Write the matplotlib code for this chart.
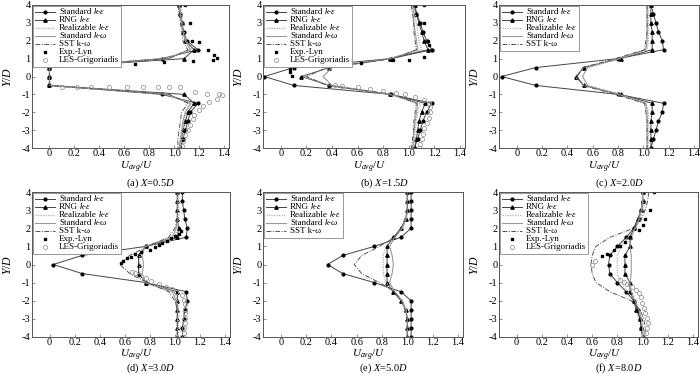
import matplotlib
matplotlib.use('Agg')
import matplotlib.pyplot as plt
from matplotlib.lines import Line2D
from matplotlib.offsetbox import TextArea, DrawingArea, HPacker, VPacker, AnchoredOffsetbox

plt.rcParams.update({
    'font.family': ['Liberation Serif', 'DejaVu Serif'],
    'mathtext.fontset': 'custom',
    'mathtext.rm': 'Liberation Serif',
    'mathtext.it': 'Liberation Serif:italic',
    'mathtext.bf': 'Liberation Serif:bold',
    'axes.unicode_minus': False,
})

# ---------------- data ----------------
y_sim = [4, 3.5, 3, 2.5, 2, 1.5, 1, 0.5, 0, -0.5, -1, -1.5, -2, -2.5, -3, -3.5, -4]

# (a) X = 0.5D
ske_a = [1.04, 1.05, 1.06, 1.08, 1.10, 1.19, 0.90, 0.0, 0.0, 0.0, 0.90, 1.19, 1.13, 1.11, 1.09, 1.07, 1.05]
rng_a = [1.04, 1.05, 1.06, 1.07, 1.09, 1.16, 1.08, 0.0, 0.0, 0.0, 1.08, 1.16, 1.11, 1.09, 1.07, 1.06, 1.05]
real_a = [1.05, 1.06, 1.07, 1.08, 1.10, 1.14, 0.93, 0.0, 0.0, 0.0, 0.93, 1.14, 1.10, 1.08, 1.07, 1.06, 1.05]
skw_a = [1.04, 1.05, 1.06, 1.07, 1.09, 1.13, 0.95, 0.0, 0.0, 0.0, 0.95, 1.13, 1.09, 1.07, 1.06, 1.05, 1.04]
sst_a = [1.03, 1.04, 1.05, 1.06, 1.07, 1.11, 0.96, 0.0, 0.0, 0.0, 0.96, 1.11, 1.06, 1.05, 1.04, 1.03, 1.03]
exp_a_x = [1.09, 1.13, 1.14, 1.20, 1.27, 1.32, 1.34, 1.31, 1.15, 0.92, 0.69]
exp_a_y = [4.0, 3.0, 2.0, 1.95, 1.5, 1.2, 1.05, 0.92, 0.85, 0.8, 0.72]
les_a_x = [0.10, 0.22, 0.33, 0.48, 0.62, 0.75, 0.87, 0.96, 1.05, 1.17, 1.26, 1.36, 1.38, 1.34, 1.28, 1.23, 1.20, 1.16, 1.15, 1.13, 1.11, 1.09, 1.07, 1.06]
les_a_y = [-0.6, -0.6, -0.6, -0.6, -0.6, -0.6, -0.6, -0.6, -0.6, -0.85, -0.96, -0.96, -1.05, -1.24, -1.44, -1.67, -1.9, -2.13, -2.4, -2.7, -3.0, -3.3, -3.6, -3.9]

# (b) X = 1.5D
ske_b = [1.04, 1.06, 1.09, 1.11, 1.14, 1.18, 0.86, 0.10, -0.13, 0.10, 0.86, 1.18, 1.14, 1.11, 1.09, 1.07, 1.04]
rng_b = [1.05, 1.06, 1.08, 1.10, 1.12, 1.15, 0.85, 0.38, 0.16, 0.38, 0.85, 1.13, 1.10, 1.08, 1.07, 1.06, 1.05]
real_b = [1.04, 1.05, 1.06, 1.07, 1.08, 1.10, 0.84, 0.38, 0.18, 0.38, 0.84, 1.09, 1.07, 1.06, 1.05, 1.05, 1.04]
skw_b = [1.03, 1.04, 1.04, 1.05, 1.06, 1.07, 0.86, 0.40, 0.33, 0.40, 0.86, 1.07, 1.06, 1.05, 1.04, 1.04, 1.03]
sst_b = [1.02, 1.03, 1.04, 1.04, 1.05, 1.06, 0.88, 0.36, 0.20, 0.36, 0.88, 1.06, 1.05, 1.04, 1.04, 1.03, 1.02]
exp_b_x = [1.12, 1.12, 1.15, 1.16, 1.18, 1.12, 1.00, 0.88, 0.63, 0.47, 0.07, 0.07, 0.09]
exp_b_y = [4.0, 3.0, 2.0, 1.75, 1.5, 1.1, 0.95, 0.9, 0.75, 0.65, 0.4, 0.25, 0.05]
les_b_x = [0.42, 0.48, 0.60, 0.70, 0.80, 0.90, 0.97, 1.05, 1.12, 1.16, 1.17, 1.17, 1.16, 1.14, 1.12, 1.11, 1.10, 1.09, 1.08]
les_b_y = [-0.5, -0.55, -0.6, -0.7, -0.8, -0.9, -1.0, -1.15, -1.3, -1.5, -1.7, -2.0, -2.3, -2.6, -2.9, -3.2, -3.5, -3.8, -4.0]

# (c) X = 2.0D
ske_c = [1.06, 1.08, 1.10, 1.12, 1.15, 1.16, 0.80, 0.15, -0.12, 0.15, 0.80, 1.16, 1.15, 1.12, 1.10, 1.08, 1.06]
rng_c = [1.06, 1.06, 1.06, 1.07, 1.07, 1.07, 0.82, 0.53, 0.47, 0.53, 0.82, 1.07, 1.07, 1.06, 1.06, 1.06, 1.06]
real_c = [1.04, 1.04, 1.04, 1.04, 1.04, 1.03, 0.82, 0.53, 0.46, 0.53, 0.82, 1.02, 1.04, 1.04, 1.04, 1.04, 1.04]
skw_c = [1.03, 1.03, 1.03, 1.03, 1.03, 1.02, 0.80, 0.56, 0.52, 0.56, 0.80, 1.02, 1.03, 1.03, 1.03, 1.03, 1.03]
sst_c = [1.03, 1.03, 1.03, 1.03, 1.02, 1.01, 0.78, 0.52, 0.48, 0.52, 0.78, 1.01, 1.02, 1.03, 1.03, 1.03, 1.03]

# (d) X = 3.0D
ske_d = [1.06, 1.06, 1.07, 1.08, 1.10, 1.09, 0.77, 0.26, 0.03, 0.26, 0.77, 1.09, 1.10, 1.08, 1.07, 1.06, 1.06]
rng_d = [1.02, 1.02, 1.02, 1.02, 1.03, 1.02, 0.77, 0.71, 0.71, 0.71, 0.77, 1.02, 1.02, 1.02, 1.02, 1.02, 1.02]
real_d = [1.03, 1.03, 1.03, 1.03, 1.02, 1.00, 0.77, 0.72, 0.72, 0.72, 0.77, 1.00, 1.02, 1.03, 1.03, 1.03, 1.03]
skw_d = [1.02, 1.02, 1.02, 1.02, 1.01, 0.98, 0.76, 0.74, 0.75, 0.74, 0.76, 0.98, 1.01, 1.02, 1.02, 1.02, 1.02]
sst_d = [1.02, 1.02, 1.02, 1.02, 1.00, 0.95, 0.78, 0.64, 0.56, 0.64, 0.78, 0.95, 1.00, 1.02, 1.02, 1.02, 1.02]
exp_d_x = [1.05, 1.03, 1.00, 0.97, 0.94, 0.90, 0.87, 0.84, 0.80, 0.73, 0.68, 0.65, 0.62, 0.59, 0.57]
exp_d_y = [1.85, 1.7, 1.57, 1.45, 1.32, 1.19, 1.05, 0.94, 0.81, 0.7, 0.57, 0.43, 0.34, 0.2, 0.1]
les_d_x = [0.66, 0.68, 0.71, 0.77, 0.81, 0.87, 0.93, 0.98, 1.01, 1.06, 1.07, 1.08, 1.08, 1.08, 1.08, 1.08, 1.07, 1.07, 1.07]
les_d_y = [-0.4, -0.47, -0.6, -0.75, -0.9, -1.07, -1.22, -1.37, -1.54, -1.7, -1.95, -2.2, -2.45, -2.7, -2.95, -3.2, -3.5, -3.8, -4.0]

# (e) X = 5.0D
ske_e = [1.03, 1.03, 1.03, 1.03, 1.03, 0.95, 0.74, 0.49, 0.37, 0.49, 0.74, 0.95, 1.03, 1.03, 1.03, 1.03, 1.03]
rng_e = [1.00, 1.00, 1.00, 0.99, 0.95, 0.89, 0.84, 0.84, 0.84, 0.84, 0.84, 0.89, 0.95, 0.99, 1.00, 1.00, 1.00]
real_e = [1.00, 1.00, 1.00, 0.99, 0.96, 0.90, 0.83, 0.81, 0.81, 0.81, 0.83, 0.90, 0.96, 0.99, 1.00, 1.00, 1.00]
skw_e = [1.00, 1.00, 1.00, 0.99, 0.96, 0.90, 0.86, 0.88, 0.89, 0.88, 0.86, 0.90, 0.96, 0.99, 1.00, 1.00, 1.00]
sst_e = [1.00, 1.00, 1.00, 0.98, 0.95, 0.90, 0.78, 0.64, 0.58, 0.64, 0.78, 0.90, 0.95, 0.98, 1.00, 1.00, 1.00]

# (f) X = 8.0D
ske_f = [1.00, 1.00, 0.99, 0.97, 0.93, 0.87, 0.80, 0.74, 0.73, 0.74, 0.80, 0.87, 0.93, 0.96, 0.98, 0.99, 1.00]
rng_f = [1.00, 1.00, 0.99, 0.96, 0.93, 0.90, 0.90, 0.86, 0.86, 0.86, 0.90, 0.90, 0.93, 0.95, 0.98, 0.99, 1.00]
real_f = [1.01, 1.01, 1.00, 0.98, 0.94, 0.88, 0.83, 0.80, 0.80, 0.80, 0.83, 0.88, 0.94, 0.97, 0.99, 1.00, 1.01]
skw_f = [1.00, 1.00, 0.99, 0.97, 0.94, 0.91, 0.90, 0.91, 0.91, 0.91, 0.90, 0.91, 0.94, 0.97, 0.99, 1.00, 1.00]
sst_f = [1.05, 1.04, 1.02, 0.99, 0.93, 0.74, 0.63, 0.60, 0.59, 0.60, 0.63, 0.74, 0.91, 0.98, 1.01, 1.02, 1.02]
exp_f_x = [1.09, 1.06, 1.02, 1.00, 0.97, 0.90, 0.86, 0.82, 0.77, 0.72, 0.68]
exp_f_y = [4.0, 3.0, 2.5, 2.2, 1.9, 1.5, 1.25, 1.0, 0.8, 0.6, 0.45]
les_f_x = [0.60, 0.62, 0.82, 0.85, 0.88, 0.915, 0.95, 0.97, 0.985, 0.995, 1.01, 1.02, 1.035, 1.04, 1.035, 1.03]
les_f_y = [0.0, 0.2, -0.83, -0.95, -1.1, -1.25, -1.4, -1.57, -1.8, -2.1, -2.4, -2.65, -2.95, -3.2, -3.5, -3.8]

captions = [r'(a) $X$=0.5$D$', r'(b) $X$=1.5$D$', r'(c) $X$=2.0$D$',
            r'(d) $X$=3.0$D$', r'(e) $X$=5.0$D$', r'(f) $X$=8.0$D$']
xticks = [0, 0.2, 0.4, 0.6, 0.8, 1.0, 1.2, 1.4]
xticklabels = ['0', '0.2', '0.4', '0.6', '0.8', '1.0', '1.2', '1.4']
yticks = [-4, -3, -2, -1, 0, 1, 2, 3, 4]
yticklabels = ['-4', '-3', '-2', '-1', '0', '1', '2', '3', '4']

# legend labels: pieces (text, font style)
legend_parts = [
    [('Standard', 'normal'), ('k-\u03b5', 'italic')],
    [('RNG', 'normal'), ('k-\u03b5', 'italic')],
    [('Realizable', 'normal'), ('k-\u03b5', 'italic')],
    [('Standard', 'normal'), ('k-\u03c9', 'italic')],
    [('SST k-\u03c9', 'normal')],
    [('Exp.-Lyn', 'normal')],
    [('LES-Grigoriadis', 'normal')],
]

panels = [
    (ske_a, rng_a, real_a, skw_a, sst_a, (exp_a_x, exp_a_y), (les_a_x, les_a_y)),
    (ske_b, rng_b, real_b, skw_b, sst_b, (exp_b_x, exp_b_y), (les_b_x, les_b_y)),
    (ske_c, rng_c, real_c, skw_c, sst_c, None, None),
    (ske_d, rng_d, real_d, skw_d, sst_d, (exp_d_x, exp_d_y), (les_d_x, les_d_y)),
    (ske_e, rng_e, real_e, skw_e, sst_e, None, None),
    (ske_f, rng_f, real_f, skw_f, sst_f, (exp_f_x, exp_f_y), (les_f_x, les_f_y)),
]

# series styles
styles = [
    dict(color='#444444', lw=0.7, marker='o', ms=2.0, mfc='k', mec='k'),
    dict(color='#444444', lw=0.7, marker='^', ms=2.4, mfc='k', mec='k'),
    dict(color='#b0b0b0', lw=0.9, ls=(0, (1, 1))),
    dict(color='#9a9a9a', lw=0.8),
    dict(color='#555555', lw=0.7, ls=(0, (5, 1.5, 1, 1.5))),
    dict(ls='none', marker='s', ms=2.0, mfc='k', mec='k'),
    dict(ls='none', marker='o', ms=3.0, mfc='none', mec='#9a9a9a', mew=0.6),
]

# pixel boxes of the axes (x0, y0, x1, y1) in a 700x374 canvas
W, H = 700, 374
boxes = [(32, 5, 229, 148), (263, 5, 465, 148), (499, 5, 699, 148),
         (32, 192, 230, 337), (263, 192, 463, 337), (499, 192, 698, 337)]
lab_off = [19, 19, 19, 18.5, 18.5, 18.5]
cap_off = [35, 35, 35, 31, 31, 31]

LFS = 6.5


def add_legend(ax, n):
    rows = []
    for k in range(n):
        st = styles[k]
        da = DrawingArea(14, 5, 0, 0)
        if st.get('ls', '-') != 'none':
            da.add_artist(Line2D([0, 14], [2.5, 2.5], color=st['color'], lw=st['lw'],
                                 ls=st.get('ls', '-')))
        if 'marker' in st:
            da.add_artist(Line2D([7], [2.5], ls='none', marker=st['marker'], ms=st['ms'],
                                 mfc=st['mfc'], mec=st['mec'], mew=st.get('mew', 1.0)))
        tas = [TextArea(t, textprops=dict(fontsize=LFS, style=s)) for t, s in legend_parts[k]]
        txt = HPacker(children=tas, sep=1.6, pad=0, align='baseline') if len(tas) > 1 else tas[0]
        rows.append(HPacker(children=[da, txt], sep=3, pad=0, align='center'))
    box = VPacker(children=rows, sep=0, pad=0, align='left')
    aob = AnchoredOffsetbox(loc='upper left', child=box, pad=0.25, borderpad=0.12,
                            frameon=True, bbox_to_anchor=(0, 1), bbox_transform=ax.transAxes,
                            prop=dict(size=LFS))
    aob.patch.set_boxstyle('square', pad=0)
    aob.patch.set_edgecolor('#888888')
    aob.patch.set_linewidth(0.6)
    ax.add_artist(aob)


fig = plt.figure(figsize=(7, 3.74), dpi=100)

for i, (box, data) in enumerate(zip(boxes, panels)):
    x0, y0, x1, y1 = box
    ax = fig.add_axes([x0 / W, 1 - y1 / H, (x1 - x0) / W, (y1 - y0) / H])
    ske, rng, real, skw, sst, exp, les = data
    for k, series in enumerate([ske, rng, real, skw, sst]):
        ax.plot(series, y_sim, **styles[k])
    n_leg = 5
    if exp is not None:
        ax.plot(exp[0], exp[1], **styles[5])
        n_leg = 6
    if les is not None:
        ax.plot(les[0], les[1], **styles[6])
        n_leg = 7

    ax.set_xlim(-0.14, 1.44)
    ax.set_ylim(-4, 4)
    ax.set_xticks(xticks)
    ax.set_xticklabels(xticklabels)
    ax.set_yticks(yticks)
    ax.set_yticklabels(yticklabels)
    ax.tick_params(direction='in', length=2, width=0.5, labelsize=7.5, pad=1.0, color='#666666')
    for s in ax.spines.values():
        s.set_color('#555555')
        s.set_linewidth(0.7)
    ax.set_ylabel(r'$Y/D$', fontsize=8.5)
    ax.yaxis.set_label_coords(-18 / (x1 - x0), 0.5)

    add_legend(ax, n_leg)

    cx_lab = (x0 + 0.53 * (x1 - x0)) / W
    cx_cap = (x0 + 0.60 * (x1 - x0)) / W
    fig.text(cx_lab, 1 - (y1 + lab_off[i]) / H, r'$U_{avg}/U$', ha='center', va='center', fontsize=8)
    fig.text(cx_cap, 1 - (y1 + cap_off[i]) / H, captions[i], ha='center', va='center', fontsize=7.5)

fig.savefig('out.png', dpi=100)
